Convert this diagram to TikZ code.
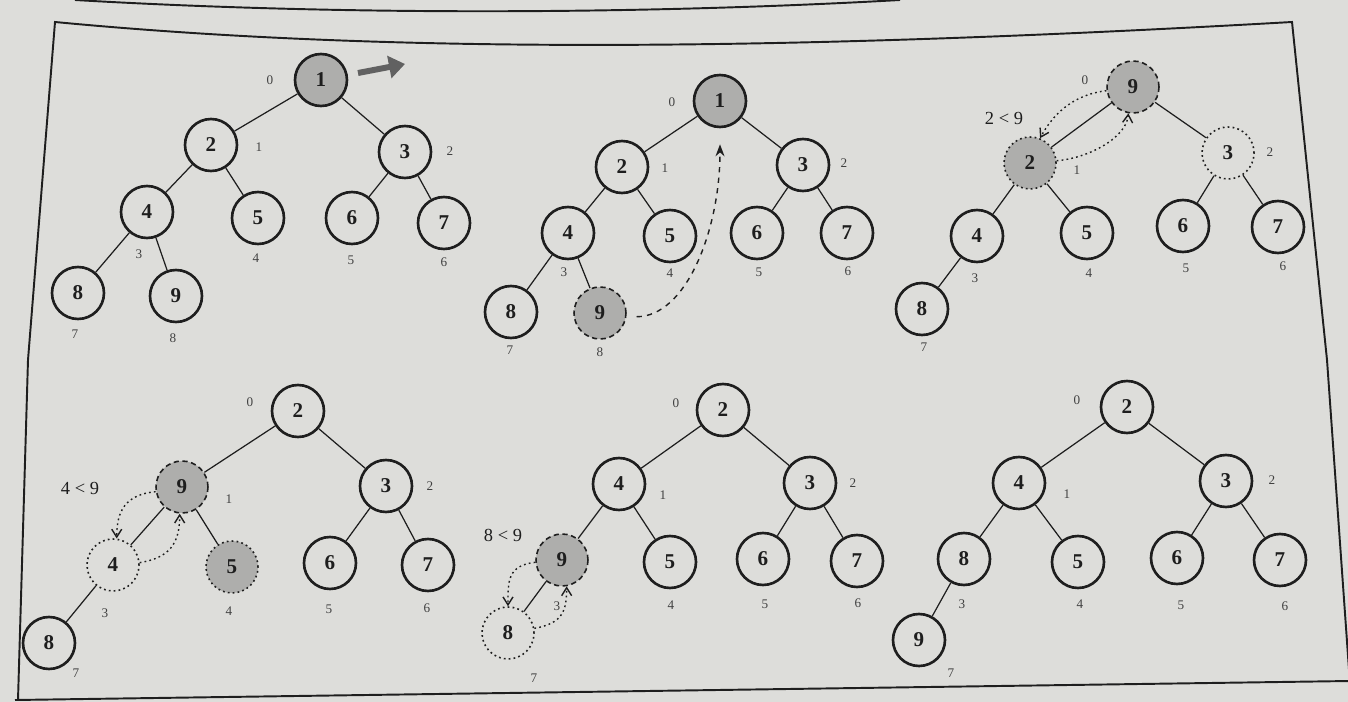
\documentclass[tikz,border=0pt]{standalone}
\usepackage{fontspec}
\setmainfont{Liberation Serif}
\usetikzlibrary{arrows.meta,calc}
\definecolor{photo}{RGB}{221,221,218}
\definecolor{shade}{RGB}{174,174,172}
\definecolor{ink}{RGB}{30,30,30}
\tikzset{
  hnode/.style={draw=ink,circle,line width=1.5pt,minimum size=1.04cm,inner sep=0pt,font=\fontsize{12}{13}\selectfont\bfseries,text=ink,fill=photo},
  hot/.style={hnode,fill=shade,line width=0.9pt,dash pattern=on 3pt off 2pt},
  hotdot/.style={hnode,fill=shade,line width=0.9pt,dash pattern=on 1pt off 1.8pt},
  ghost/.style={hnode,line width=0.9pt,dash pattern=on 1pt off 1.8pt},
  link/.style={draw=ink,line width=0.7pt},
  idx/.style={font=\fontsize{7.5}{9}\selectfont,text=ink!85,inner sep=0pt},
  cmp/.style={font=\fontsize{10.5}{12}\selectfont,text=ink,inner sep=0pt},
  trade/.style={draw=ink,line width=0.8pt,dash pattern=on 1pt off 1.8pt,-{Straight Barb[length=1.6mm,width=2mm]}},
  rise/.style={draw=ink,line width=0.8pt,dashed,-{Stealth[length=2.4mm,width=1.8mm]}},
  push/.style={draw=ink!70,line width=3.4pt,-{Triangle[length=3.2mm,width=4.4mm]}},
  frame/.style={draw=ink,line width=1.1pt}
}
\begin{document}
\begin{tikzpicture}[x=0.02cm,y=-0.02cm]
\useasboundingbox (0,0) rectangle (1348,702);
\fill[photo] (0,0) rectangle (1348,702);
% page frame
\draw[frame] (75,0) .. controls (350,16) and (650,14) .. (900,0);
\draw[frame] (18,700) -- (28,360) -- (55,22) .. controls (400,55) and (800,50) .. (1292,22) -- (1327,360) -- (1350,684);
\draw[frame] (15,700) -- (1350,681);

% tree 1: root taken out
\node[hnode,fill=shade] (a1) at (321,80) {1};
\node[hnode] (a2) at (211,145) {2};
\node[hnode] (a3) at (405,152) {3};
\node[hnode] (a4) at (147,212) {4};
\node[hnode] (a5) at (258,218) {5};
\node[hnode] (a6) at (352,218) {6};
\node[hnode] (a7) at (444,223) {7};
\node[hnode] (a8) at (78,293) {8};
\node[hnode] (a9) at (176,296) {9};
\foreach \u/\v in {a1/a2,a1/a3,a2/a4,a2/a5,a3/a6,a3/a7,a4/a8,a4/a9} \draw[link] (\u) -- (\v);
\foreach \i/\x/\y in {0/270/80,1/259/147,2/450/151,3/139/254,4/256/258,5/351/260,6/444/262,7/75/334,8/173/338}
  \node[idx] (ia\i) at (\x,\y) {\i};
\coordinate (pushA) at (358,73);
\coordinate (pushB) at (405,64);
\draw[push] (pushA) -- (pushB);

% tree 2: last moved to top
\node[hnode,fill=shade] (b1) at (720,101) {1};
\node[hnode] (b2) at (622,167) {2};
\node[hnode] (b3) at (803,165) {3};
\node[hnode] (b4) at (568,233) {4};
\node[hnode] (b5) at (670,236) {5};
\node[hnode] (b6) at (757,233) {6};
\node[hnode] (b7) at (847,233) {7};
\node[hnode] (b8) at (511,312) {8};
\node[hot] (b9) at (600,313) {9};
\foreach \u/\v in {b1/b2,b1/b3,b2/b4,b2/b5,b3/b6,b3/b7,b4/b8,b4/b9} \draw[link] (\u) -- (\v);
\foreach \i/\x/\y in {0/672/102,1/665/168,2/844/163,3/564/272,4/670/273,5/759/272,6/848/271,7/510/350,8/600/352}
  \node[idx] (ib\i) at (\x,\y) {\i};
\coordinate (b1in) at ($(b1.south)+(0,16)$);
\draw[rise,shorten <=2mm] (b9.-8) .. controls +(60,0) and +(0,85) .. (b1in);

% tree 3
\node[hot] (c9) at (1133,87) {9};
\node[hotdot] (c2) at (1030,163) {2};
\node[ghost] (c3) at (1228,153) {3};
\node[hnode] (c4) at (977,236) {4};
\node[hnode] (c5) at (1087,233) {5};
\node[hnode] (c6) at (1183,226) {6};
\node[hnode] (c7) at (1278,227) {7};
\node[hnode] (c8) at (922,309) {8};
\foreach \u/\v in {c9/c2,c9/c3,c2/c4,c2/c5,c3/c6,c3/c7,c4/c8} \draw[link] (\u) -- (\v);
\foreach \i/\x/\y in {0/1085/80,1/1077/170,2/1270/152,3/975/278,4/1089/273,5/1186/268,6/1283/266,7/924/347}
  \node[idx] (ic\i) at (\x,\y) {\i};
\node[cmp] (cmpc) at (1004,118) {2 < 9};
\draw[trade] (c9.188) .. controls +(-35,4) and +(12,-22) .. (c2.68);
\draw[trade] (c2.5) .. controls +(30,-2) and +(-2,25) .. (c9.-100);

% tree 4
\node[hnode] (d2) at (298,411) {2};
\node[hot] (d9) at (182,487) {9};
\node[hnode] (d3) at (386,486) {3};
\node[ghost] (d4) at (113,565) {4};
\node[hotdot] (d5) at (232,567) {5};
\node[hnode] (d6) at (330,563) {6};
\node[hnode] (d7) at (428,565) {7};
\node[hnode] (d8) at (49,643) {8};
\foreach \u/\v in {d2/d9,d2/d3,d9/d4,d9/d5,d3/d6,d3/d7,d4/d8} \draw[link] (\u) -- (\v);
\foreach \i/\x/\y in {0/250/402,1/229/499,2/430/486,3/105/613,4/229/611,5/329/609,6/427/608,7/76/673}
  \node[idx] (id\i) at (\x,\y) {\i};
\node[cmp] (cmpd) at (80,488) {4 < 9};
\draw[trade] (d9.190) .. controls +(-30,3) and +(0,-28) .. (d4.82);
\draw[trade] (d4.5) .. controls +(30,-5) and +(0,30) .. (d9.-95);

% tree 5
\node[hnode] (e2) at (723,410) {2};
\node[hnode] (e4) at (619,484) {4};
\node[hnode] (e3) at (810,483) {3};
\node[hot] (e9) at (562,560) {9};
\node[hnode] (e5) at (670,562) {5};
\node[hnode] (e6) at (763,559) {6};
\node[hnode] (e7) at (857,561) {7};
\node[ghost] (e8) at (508,633) {8};
\foreach \u/\v in {e2/e4,e2/e3,e4/e9,e4/e5,e3/e6,e3/e7,e9/e8} \draw[link] (\u) -- (\v);
\foreach \i/\x/\y in {0/676/403,1/663/495,2/853/483,3/557/606,4/671/605,5/765/604,6/858/603,7/534/678}
  \node[idx] (ie\i) at (\x,\y) {\i};
\node[cmp] (cmpe) at (503,535) {8 < 9};
\draw[trade] (e9.185) .. controls +(-28,3) and +(0,-25) .. (e8.90);
\draw[trade] (e8.10) .. controls +(28,-5) and +(0,25) .. (e9.-80);

% tree 6: heap restored
\node[hnode] (f2) at (1127,407) {2};
\node[hnode] (f4) at (1019,483) {4};
\node[hnode] (f3) at (1226,481) {3};
\node[hnode] (f8) at (964,559) {8};
\node[hnode] (f5) at (1078,562) {5};
\node[hnode] (f6) at (1177,558) {6};
\node[hnode] (f7) at (1280,560) {7};
\node[hnode] (f9) at (919,640) {9};
\foreach \u/\v in {f2/f4,f2/f3,f4/f8,f4/f5,f3/f6,f3/f7,f8/f9} \draw[link] (\u) -- (\v);
\foreach \i/\x/\y in {0/1077/400,1/1067/494,2/1272/480,3/962/604,4/1080/604,5/1181/605,6/1285/606,7/951/673}
  \node[idx] (if\i) at (\x,\y) {\i};
\end{tikzpicture}
\end{document}
